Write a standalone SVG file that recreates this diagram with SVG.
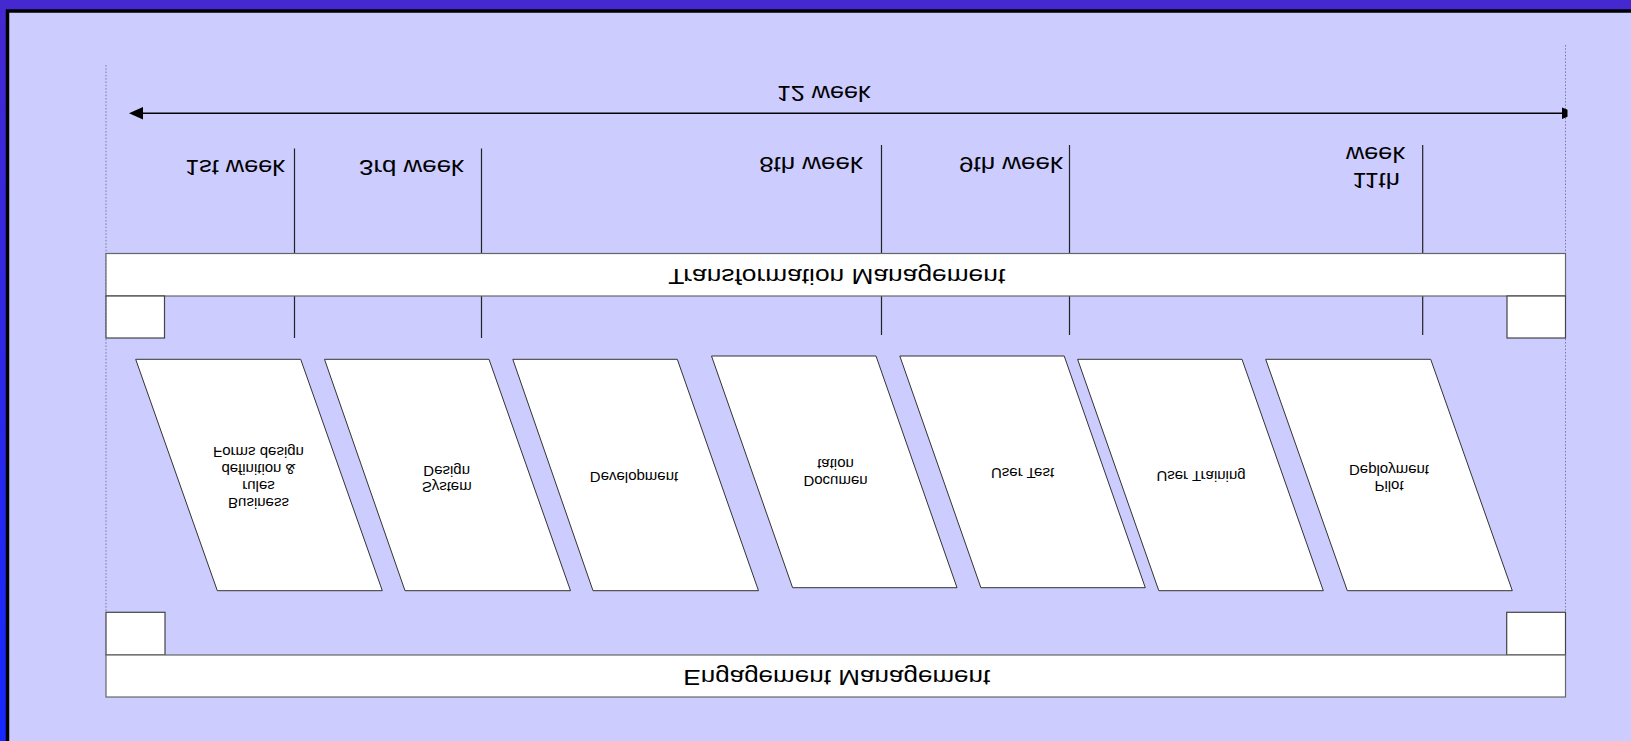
<svg xmlns="http://www.w3.org/2000/svg" width="1631" height="741" viewBox="0 0 1631 741">
  <defs>
    <linearGradient id="bg" x1="0" y1="0" x2="0" y2="1">
      <stop offset="0" stop-color="#4528cf"/>
      <stop offset="1" stop-color="#1628ff"/>
    </linearGradient>
    <style>
      .t { font-family: "Liberation Sans", Arial, sans-serif; fill: #000; text-anchor: middle; }
      .big { font-size: 22px; }
      .small { font-size: 15px; }
      .bar { fill: #fff; stroke: #666; stroke-width: 1.2; }
      .box { fill: #fff; stroke: #444; stroke-width: 1.2; }
      .para { fill: #fff; stroke: #333; stroke-width: 1; }
      .tick { stroke: #222; stroke-width: 1.2; fill: none; }
      .dot { stroke: #7a7a9a; stroke-width: 1; stroke-dasharray: 1.5 1.8; fill: none; }
      .arrow { stroke: #000; stroke-width: 1.4; fill: none; }
    </style>
  </defs>

  <rect x="0" y="0" width="1631" height="741" fill="url(#bg)"/>
  <rect x="7.5" y="11" width="1640" height="760" fill="#ccccff" stroke="#000" stroke-width="3.5"/>

  <g id="connectors">
    <line class="dot" x1="106" y1="65" x2="106" y2="612"/>
    <line class="dot" x1="1565.5" y1="45" x2="1565.5" y2="612"/>
    <line class="arrow" x1="142" y1="113.3" x2="1562" y2="113.3"/>
    <polygon points="129,113.3 143,107 143,119.6" fill="#000"/>
    <polygon points="1562,107.5 1567.5,109.8 1567.5,116.8 1562,119.1" fill="#000"/>
    <line class="tick" x1="294.5" y1="148.5" x2="294.5" y2="253.5"/>
    <line class="tick" x1="294.5" y1="296" x2="294.5" y2="338"/>
    <line class="tick" x1="481.5" y1="148.5" x2="481.5" y2="253.5"/>
    <line class="tick" x1="481.5" y1="296" x2="481.5" y2="338"/>
    <line class="tick" x1="881.5" y1="145" x2="881.5" y2="253.5"/>
    <line class="tick" x1="881.5" y1="296" x2="881.5" y2="335"/>
    <line class="tick" x1="1069.5" y1="145" x2="1069.5" y2="253.5"/>
    <line class="tick" x1="1069.5" y1="296" x2="1069.5" y2="335"/>
    <line class="tick" x1="1422.7" y1="145" x2="1422.7" y2="253.5"/>
    <line class="tick" x1="1422.7" y1="296" x2="1422.7" y2="335"/>
  </g>

  <g id="duration">
    <text class="t big" transform="translate(823.7,86) scale(1,-1)" textLength="94" lengthAdjust="spacingAndGlyphs">12 week</text>
  </g>
  <g id="week1">
    <text class="t big" transform="translate(235,159.5) scale(1,-1)" textLength="100" lengthAdjust="spacingAndGlyphs">1st week</text>
  </g>
  <g id="week3">
    <text class="t big" transform="translate(411.5,159.5) scale(1,-1)" textLength="105" lengthAdjust="spacingAndGlyphs">3rd week</text>
  </g>
  <g id="week8">
    <text class="t big" transform="translate(811,156.7) scale(1,-1)" textLength="103.7" lengthAdjust="spacingAndGlyphs">8th week</text>
  </g>
  <g id="week9">
    <text class="t big" transform="translate(1011,156.7) scale(1,-1)" textLength="104" lengthAdjust="spacingAndGlyphs">9th week</text>
  </g>
  <g id="week11">
    <text class="t big" transform="translate(1376,172.7) scale(1,-1)" textLength="47.5" lengthAdjust="spacingAndGlyphs">11th</text>
    <text class="t big" transform="translate(1375.5,146.7) scale(1,-1)" textLength="59" lengthAdjust="spacingAndGlyphs">week</text>
  </g>

  <g id="transformation">
    <rect class="bar" x="106" y="253.5" width="1459.5" height="42.5"/>
    <text class="t big" transform="translate(836.7,268.5) scale(1,-1)" textLength="337" lengthAdjust="spacingAndGlyphs">Transformation Management</text>
  </g>
  <g id="box-top-left"><rect class="box" x="106" y="296" width="58.5" height="42"/></g>
  <g id="box-top-right"><rect class="box" x="1507" y="296" width="58.5" height="42"/></g>

  <g id="business-rules">
    <polygon class="para" points="135.7,359.3 300.7,359.3 382.3,590.7 217.3,590.7"/>
    <text class="t small" transform="translate(258.5,498) scale(1,-1)">Business</text>
    <text class="t small" transform="translate(258.5,481) scale(1,-1)">rules</text>
    <text class="t small" transform="translate(258.5,464) scale(1,-1)">definition &amp;</text>
    <text class="t small" transform="translate(258.5,447) scale(1,-1)">Forms design</text>
  </g>
  <g id="system-design">
    <polygon class="para" points="324.5,359.3 489,359.3 570.5,590.7 405,590.7"/>
    <text class="t small" transform="translate(446.7,482) scale(1,-1)">System</text>
    <text class="t small" transform="translate(446.7,466) scale(1,-1)">Design</text>
  </g>
  <g id="development">
    <polygon class="para" points="512.8,359.3 677.3,359.3 758.5,590.7 593,590.7"/>
    <text class="t small" transform="translate(634,472) scale(1,-1)">Development</text>
  </g>
  <g id="documentation">
    <polygon class="para" points="711.5,356 876,356 957,587.7 792.6,587.7"/>
    <text class="t small" transform="translate(835.5,476) scale(1,-1)">Documen</text>
    <text class="t small" transform="translate(835.5,458.5) scale(1,-1)">tation</text>
  </g>
  <g id="user-test">
    <polygon class="para" points="899.8,356 1064.2,356 1145.3,587.7 980.9,587.7"/>
    <text class="t small" transform="translate(1022.5,468) scale(1,-1)">User Test</text>
  </g>
  <g id="user-training">
    <polygon class="para" points="1077.6,359.3 1242,359.3 1323.3,590.7 1158.8,590.7"/>
    <text class="t small" transform="translate(1201,471) scale(1,-1)">User Training</text>
  </g>
  <g id="pilot-deployment">
    <polygon class="para" points="1265.7,359.3 1430.7,359.3 1512.3,590.7 1347.3,590.7"/>
    <text class="t small" transform="translate(1389,481) scale(1,-1)">Pilot</text>
    <text class="t small" transform="translate(1389,464.5) scale(1,-1)">Deployment</text>
  </g>

  <g id="box-bottom-left"><rect class="box" x="106" y="612.3" width="59" height="42.7"/></g>
  <g id="box-bottom-right"><rect class="box" x="1506.7" y="612.3" width="58.8" height="42.7"/></g>
  <g id="engagement">
    <rect class="bar" x="106" y="655" width="1459.5" height="42"/>
    <text class="t big" transform="translate(836.8,669.5) scale(1,-1)" textLength="307" lengthAdjust="spacingAndGlyphs">Engagement Management</text>
  </g>
</svg>
